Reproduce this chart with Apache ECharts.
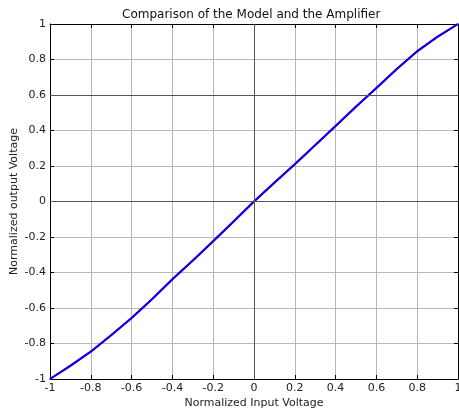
<!DOCTYPE html>
<html>
<head>
<meta charset="utf-8">
<script src="https://cdn.jsdelivr.net/npm/echarts@6/dist/echarts.min.js"></script>
<style>
  html, body { margin: 0; padding: 0; background: #fff; }
  #chart { width: 459px; height: 410px; }
</style>
</head>
<body>
<div id="chart"></div>
<script>
// normalized input voltage samples
var inputVoltage = [-1, -0.9, -0.8, -0.7, -0.6, -0.5, -0.4, -0.3, -0.2, -0.1, 0,
                    0.1, 0.2, 0.3, 0.4, 0.5, 0.6, 0.7, 0.8, 0.9, 1];
// model output (red) and amplifier output (blue)
var modelOutput = [-1, -0.925, -0.845, -0.752, -0.656, -0.55, -0.438, -0.333, -0.223, -0.112, 0,
                   0.107, 0.21, 0.318, 0.425, 0.535, 0.64, 0.747, 0.847, 0.928, 1];
var ampOutput = [-1, -0.926, -0.846, -0.753, -0.656, -0.551, -0.438, -0.332, -0.224, -0.113, 0,
                 0.106, 0.21, 0.317, 0.425, 0.534, 0.64, 0.746, 0.846, 0.929, 1];
var darkX = [0];
var darkY = [0, 0.6];

var font = '"DejaVu Sans", Verdana, sans-serif';

function pairs(xs, ys) {
    return xs.map(function (x, i) { return [x, ys[i]]; });
}

var chart = echarts.init(document.getElementById('chart'));

var axisCommon = {
    type: 'value',
    min: -1,
    max: 1,
    interval: 0.2,
    axisLine: { show: true, onZero: false, lineStyle: { color: '#000', width: 1 } },
    axisTick: { show: true, inside: true, length: 4, lineStyle: { color: '#000' } },
    splitLine: { show: false }
};

var markData = darkX.map(function (v) { return { xAxis: v }; })
    .concat(darkY.map(function (v) { return { yAxis: v }; }));

var labelStyle = { fontFamily: font, fontSize: 11, color: '#222', margin: 4 };
var nameStyle = { fontFamily: font, fontSize: 11, color: '#222' };

var option = {
    animation: false,
    backgroundColor: '#fff',
    title: {
        text: 'Comparison of the Model and the Amplifier',
        left: 117,
        top: 4,
        textStyle: { fontFamily: font, fontSize: 12, fontWeight: 'normal', color: '#111' }
    },
    grid: { left: 50, right: 1, top: 24, bottom: 31, outerBoundsMode: 'none', containLabel: false },
    xAxis: [
        Object.assign({}, axisCommon, {
            position: 'bottom',
            name: 'Normalized Input Voltage',
            nameLocation: 'middle',
            nameGap: 19,
            nameMoveOverlap: false,
            nameTextStyle: nameStyle,
            axisLabel: labelStyle,
            splitLine: { show: true, lineStyle: { color: '#b8b8b8', width: 1 } }
        }),
        Object.assign({}, axisCommon, {
            position: 'top',
            axisLabel: { show: false }
        })
    ],
    yAxis: [
        Object.assign({}, axisCommon, {
            position: 'left',
            name: 'Normalized output Voltage',
            nameLocation: 'middle',
            nameGap: 30,
            nameMoveOverlap: false,
            nameTextStyle: nameStyle,
            axisLabel: labelStyle,
            splitLine: { show: true, lineStyle: { color: '#b8b8b8', width: 1 } }
        }),
        Object.assign({}, axisCommon, {
            position: 'right',
            axisLabel: { show: false }
        })
    ],
    series: [
        {
            type: 'line',
            data: [],
            silent: true,
            z: 1,
            markLine: {
                silent: true,
                symbol: 'none',
                label: { show: false },
                lineStyle: { color: '#555', width: 1, type: 'solid' },
                data: markData
            }
        },
        {
            name: 'Model',
            type: 'line',
            data: pairs(inputVoltage, modelOutput),
            showSymbol: false,
            lineStyle: { color: '#ff0000', width: 2 },
            z: 2
        },
        {
            name: 'Amplifier',
            type: 'line',
            data: pairs(inputVoltage, ampOutput),
            showSymbol: false,
            lineStyle: { color: '#0000ff', width: 2 },
            z: 3
        }
    ]
};

chart.setOption(option);
</script>
</body>
</html>
